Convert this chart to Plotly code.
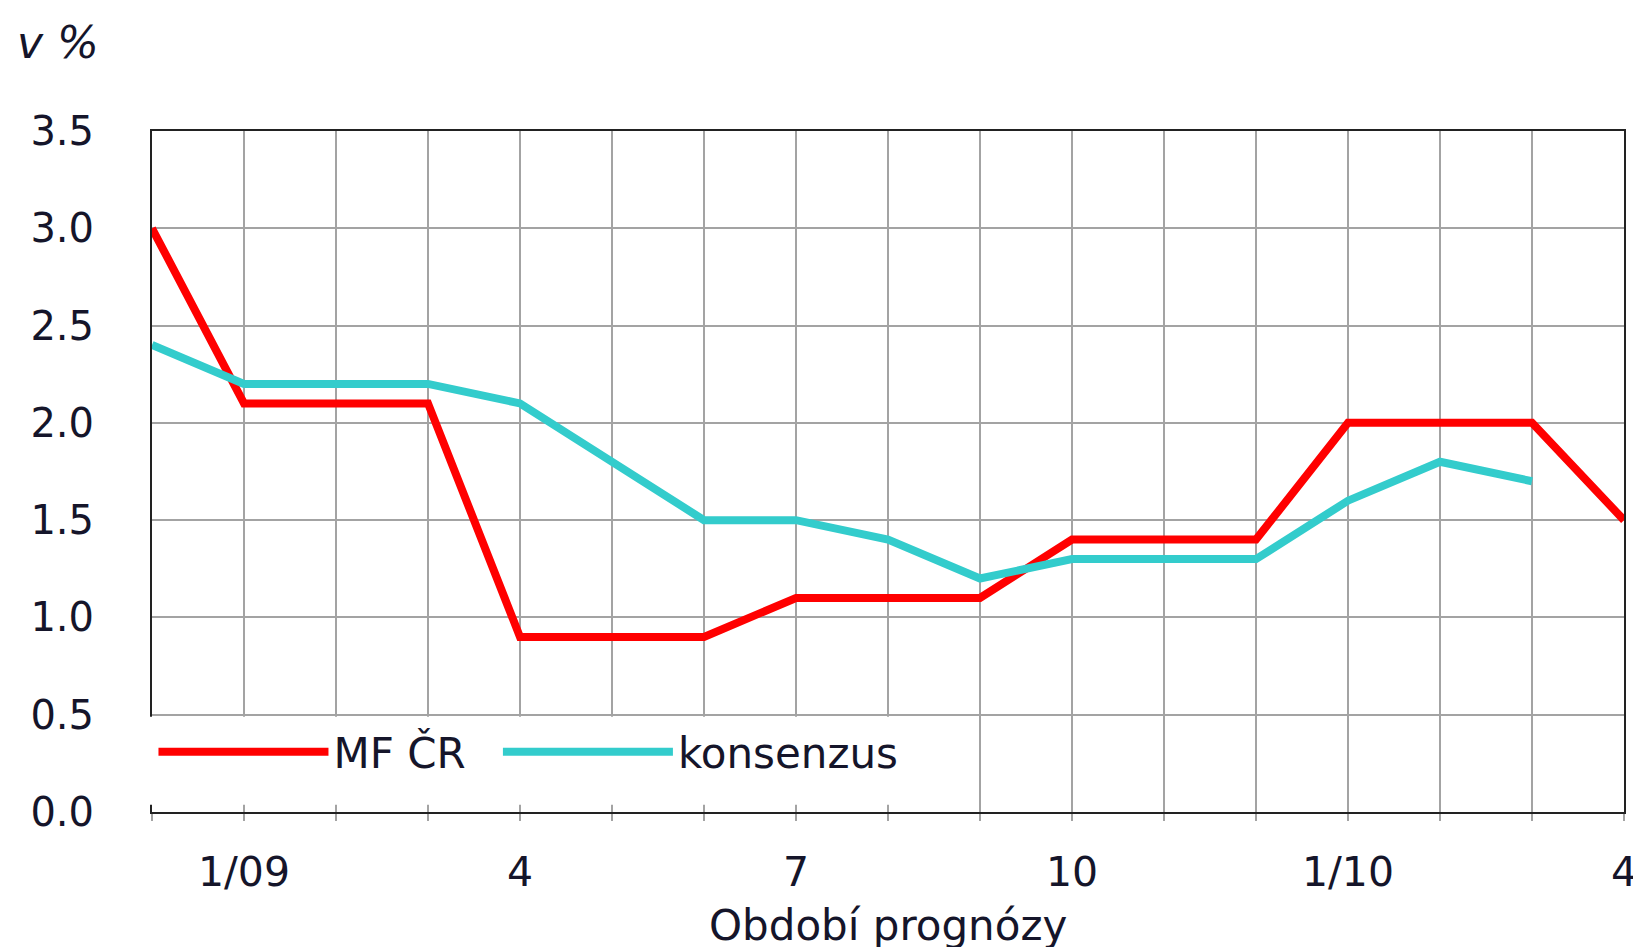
"""
Forecast comparison chart: MF ČR vs. consensus
"""

import plotly.graph_objects as go

# forecast periods (12/08 .. 4/10)
periods = ["12/08", "1/09", "2/09", "3/09", "4/09", "5/09", "6/09", "7/09", "8/09",
           "9/09", "10/09", "11/09", "12/09", "1/10", "2/10", "3/10", "4/10"]
tick_text = ["", "1/09", "", "", "4", "", "", "7", "", "", "10", "", "", "1/10", "", "", "4"]

mf_cr = [3.0, 2.1, 2.1, 2.1, 0.9, 0.9, 0.9, 1.1, 1.1, 1.1, 1.4, 1.4, 1.4, 2.0, 2.0, 2.0, 1.5]
konsenzus = [2.4, 2.2, 2.2, 2.2, 2.1, 1.8, 1.5, 1.5, 1.4, 1.2, 1.3, 1.3, 1.3, 1.6, 1.8, 1.7, None]

FONT = "DejaVu Sans"
TEXT_COLOR = "#15152a"
GRID = "#a3a3a3"
AXIS = "#222222"

fig = go.Figure()

fig.add_trace(go.Scatter(
    x=periods, y=mf_cr, mode="lines", name="MF ČR", legend="legend",
    line=dict(color="#ff0000", width=8),
))
fig.add_trace(go.Scatter(
    x=periods, y=konsenzus, mode="lines", name="konsenzus", legend="legend2",
    line=dict(color="#33cccc", width=8),
))

# white box behind the legend (hides the grid there, as in the original)
fig.add_shape(type="rect", xref="paper", yref="paper",
              x0=-0.006, x1=0.557, y0=0.0105, y1=0.1398,
              fillcolor="white", line=dict(width=0),
              layer="above")

fig.add_annotation(text="<i>v %</i>", xref="paper", yref="paper",
                   x=-0.093, y=1.130, xanchor="left", yanchor="middle",
                   showarrow=False, font=dict(family=FONT, size=44, color=TEXT_COLOR))

fig.add_annotation(text="Období prognózy", xref="paper", yref="paper",
                   x=0.5, y=-0.166, xanchor="center", yanchor="middle",
                   showarrow=False, font=dict(family=FONT, size=42, color=TEXT_COLOR))

legend_style = dict(
    orientation="h", yanchor="middle", xanchor="left", y=0.088,
    bgcolor="rgba(0,0,0,0)", itemwidth=170, font=dict(size=42),
)

fig.update_layout(
    width=1641, height=947,
    margin=dict(l=144, r=18, t=123, b=143),
    plot_bgcolor="white", paper_bgcolor="white",
    font=dict(family=FONT, size=40, color=TEXT_COLOR),
    showlegend=True,
    legend=dict(legend_style, x=0.001),
    legend2=dict(legend_style, x=0.235),
    xaxis=dict(
        type="category", range=[0, 16],
        tickmode="array", tickvals=periods, ticktext=tick_text,
        showgrid=True, gridcolor=GRID, gridwidth=2,
        ticks="outside", ticklen=7, tickwidth=2, tickcolor=GRID,
        tickfont=dict(size=41),
        showline=True, linecolor=AXIS, linewidth=2, mirror=True,
        ticklabelstandoff=16,
    ),
    yaxis=dict(
        range=[0, 3.5], dtick=0.5, tickformat=".1f",
        showgrid=True, gridcolor=GRID, gridwidth=2,
        ticks="", showline=True, linecolor=AXIS, linewidth=2, mirror=True,
        ticklabelstandoff=48, zeroline=False,
    ),
)

fig.write_html("out.html")
